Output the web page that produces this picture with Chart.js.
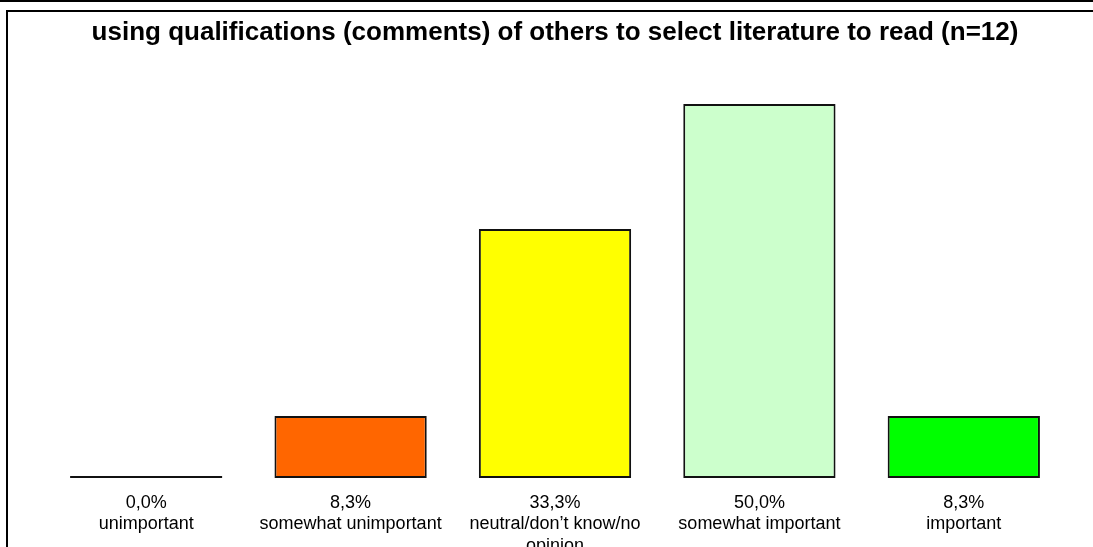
<!DOCTYPE html>
<html>
<head>
<meta charset="utf-8">
<script src="https://cdn.jsdelivr.net/npm/chart.js@4/dist/chart.umd.min.js"></script>
<style>
  html, body { margin: 0; padding: 0; background: #fff; overflow: hidden; }
  .rule { position: absolute; left: 0; top: 0; width: 1093px; height: 0; border-top: 2px solid #000; }
  .frame { position: absolute; left: 6px; top: 10px; width: 1100px; height: 560px;
           border-left: 2px solid #000; border-top: 2px solid #000; }
  #wrap { position: absolute; left: 0; top: 0; width: 1093px; height: 547px; }
</style>
</head>
<body>
<div class="rule"></div>
<div class="frame"></div>
<div id="wrap"><canvas id="c"></canvas></div>
<script>
const categories = [
    [ '0,0%', 'unimportant' ],
    [ '8,3%', 'somewhat unimportant' ],
    [ '33,3%', 'neutral/don\u2019t know/no', 'opinion' ],
    [ '50,0%', 'somewhat important' ],
    [ '8,3%', 'important' ]
];
const shares = [ 0.0, 8.3, 33.3, 50.0, 8.3 ];
const fills = [ '#000000', '#ff6600', '#ffff00', '#ccffcc', '#00ff00' ];

Chart.defaults.font.family = 'Liberation Sans, Arial, sans-serif';
Chart.defaults.color = '#000';
Chart.defaults.animation = false;

new Chart( document.getElementById( 'c' ), {
    type: 'bar',
    data: {
        labels: categories,
        datasets: [ {
            data: shares,
            backgroundColor: fills,
            borderColor: '#111',
            borderWidth: 2,
            borderSkipped: false,
            minBarLength: 2,
            barPercentage: 0.745,
            categoryPercentage: 1
        } ]
    },
    options: {
        responsive: true,
        maintainAspectRatio: false,
        events: [],
        layout: { padding: { left: 44, right: 27, top: 0, bottom: 0 } },
        plugins: {
            legend: { display: false },
            tooltip: { enabled: false },
            title: {
                display: true,
                text: 'using qualifications (comments) of others to select literature to read (n=12)',
                font: { size: 26, weight: 'bold' },
                color: '#000',
                padding: { top: 17, bottom: 55.8 }
            }
        },
        scales: {
            x: {
                grid: { display: false },
                border: { display: false },
                ticks: {
                    font: { size: 18 },
                    lineHeight: 1.15,
                    padding: 6,
                    maxRotation: 0,
                    autoSkip: false
                },
                afterFit: ( scale ) => { scale.height = 69; }
            },
            y: {
                display: false,
                min: 0,
                max: 50
            }
        }
    }
} );
</script>
</body>
</html>
